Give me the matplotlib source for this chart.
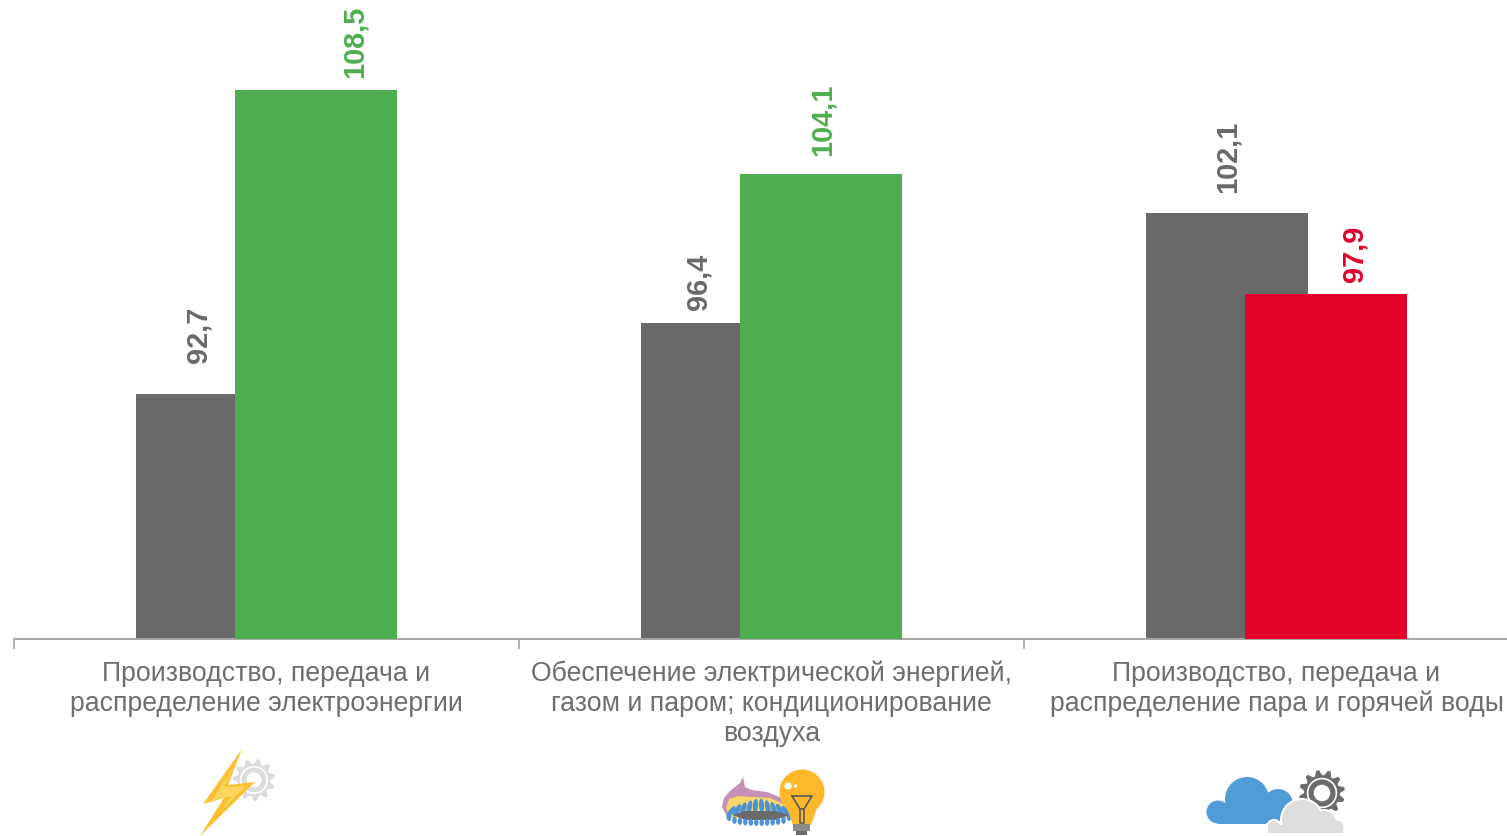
import numpy as np
import matplotlib
matplotlib.use("Agg")
import matplotlib.pyplot as plt
from matplotlib.patches import Circle, Ellipse, Polygon, Rectangle

categories = [
    "Производство, передача и\nраспределение электроэнергии",
    "Обеспечение электрической энергией,\nгазом и паром; кондиционирование\nвоздуха",
    "Производство, передача и\nраспределение пара и горячей воды",
]
prev_values = [92.7, 96.4, 102.1]
curr_values = [108.5, 104.1, 97.9]

GREY = "#696969"
GREEN = "#4FAE50"
RED = "#E2002B"
TEXT = "#6E6E6E"
AXIS = "#A6A6A6"
curr_colors = [GREEN, GREEN, RED]

W, H = 1507, 836
plt.rcParams["font.family"] = ["Liberation Sans", "DejaVu Sans"]
fig = plt.figure(figsize=(W / 100, H / 100), dpi=100, facecolor="white")
ax = fig.add_axes([14 / W, (H - 639) / H, 1493 / W, 639 / H])

x = np.arange(len(categories))
bar_w = 162.5 / 505
shift = 49.5 / 505
ax.bar(x - shift, prev_values, bar_w, color=GREY, zorder=2)
ax.bar(x + shift, curr_values, bar_w, color=curr_colors, zorder=3)
ax.set_xlim(-0.5, 1493 / 505 - 0.5)
ax.set_ylim(80, 80 + 639 / 19.28)

# labels were hand-placed in the original, offsets in px from bar centre / top
prev_off = [(-19, 31), (-23, 13), (1, 20)]
curr_off = [(39, 12), (2, 18), (29, 12)]
pt = 0.72
for i in x:
    ax.annotate(f"{prev_values[i]:.1f}".replace(".", ","), (i - shift, prev_values[i]),
                xytext=(prev_off[i][0] * pt, prev_off[i][1] * pt), textcoords="offset points",
                rotation=90, ha="center", va="bottom", fontsize=20.8, fontweight="bold",
                color=GREY, annotation_clip=False)
    ax.annotate(f"{curr_values[i]:.1f}".replace(".", ","), (i + shift, curr_values[i]),
                xytext=(curr_off[i][0] * pt, curr_off[i][1] * pt), textcoords="offset points",
                rotation=90, ha="center", va="bottom", fontsize=20.8, fontweight="bold",
                color=curr_colors[i], annotation_clip=False)

for s in ["top", "left", "right"]:
    ax.spines[s].set_visible(False)
ax.spines["bottom"].set_color(AXIS)
ax.spines["bottom"].set_linewidth(1.4)
ax.set_yticks([])
ax.set_xticks(x)
ax.set_xticklabels(categories, fontsize=19.2, color=TEXT, linespacing=1.2)
ax.tick_params(axis="x", which="major", length=0, pad=15.5)
ax.set_xticks([-0.5, 0.5, 1.5], minor=True)
ax.tick_params(axis="x", which="minor", length=7, width=1.2, color=AXIS)

# ─── icons under the categories, drawn in pixel coords ───
ic = fig.add_axes([0, 0, 1, 1], zorder=5)
ic.set_xlim(0, W)
ic.set_ylim(H, 0)
ic.axis("off")


def gear(cx, cy, r_out, r_in, n, col):
    a = np.linspace(0, 2 * np.pi, n * 4, endpoint=False) + np.pi / (2 * n)
    r = np.tile([r_in, r_out, r_out, r_in], n)
    ic.add_patch(Polygon(np.c_[cx + r * np.cos(a), cy + r * np.sin(a)], color=col, lw=0))
    ic.add_patch(Circle((cx, cy), r_in * 0.8, fc=col, ec="white", lw=1.2))
    ic.add_patch(Circle((cx, cy), r_in * 0.46, fc="white", lw=0))


# bolt + gear
gear(254, 780, 21, 16.5, 11, "#DCDCDC")
ic.add_patch(Polygon([(242, 749), (203, 804), (224, 798), (200, 836), (255, 782), (228, 785)],
                     color="#FBC02D", lw=0))
ic.add_patch(Polygon([(234, 766), (211, 801), (232, 796), (218, 814), (246, 786), (224, 787)],
                     color="#FDD65E", lw=0))

# burner
ic.add_patch(Polygon([(722, 807), (724, 798), (730, 791), (740, 783), (743, 777), (745, 787),
                      (752, 790), (767, 792), (782, 798), (790, 818), (728, 818)],
                     color="#C590B5", lw=0))
ic.add_patch(Polygon([(726, 808), (729, 799), (738, 796), (770, 798), (788, 806), (788, 818), (730, 818)],
                     color="#F6D56B", lw=0))
for fx in np.linspace(731, 786, 10):
    tilt = (fx - 759) * -1.3
    ic.add_patch(Ellipse((fx, 805 + 7 * abs(fx - 759) / 28), 5, 14, angle=tilt, color="#4C92D6", lw=0))
ic.add_patch(Polygon([(733, 815), (745, 811), (775, 811), (790, 815), (775, 820), (745, 820)],
                     color="#6A6A6A", lw=0))
for t in np.linspace(-1, 1, 12):
    ic.add_patch(Ellipse((759 + 30 * t, 817.5 + 5 * np.sqrt(1 - t * t)), 4.5, 7, color="#4C92D6", lw=0))

# bulb
ic.add_patch(Circle((802, 792), 22.5, color="#FDB92B", lw=0))
ic.add_patch(Polygon([(786, 805), (818, 805), (811, 825), (793, 825)], color="#FDB92B", lw=0))
ic.add_patch(Rectangle((793, 824), 17, 7, color="#8A8A8A", lw=0))
ic.add_patch(Rectangle((796, 831), 11, 4, color="#6A6A6A", lw=0))
ic.plot([792, 812, 804, 800, 792], [796, 796, 809, 809, 796], color="#5A5A5A", lw=1.2)
ic.plot([800, 800, 804, 804], [809, 823, 823, 809], color="#5A5A5A", lw=1.2)
ic.add_patch(Circle((788, 786), 3.6, color="white", lw=0))
ic.add_patch(Circle((795.5, 786), 1.6, color="white", lw=0))

# clouds + gear
gear(1322, 793, 23, 18, 12, "#6B6B6B")
BLUE = "#4F9CD6"
ic.add_patch(Circle((1247, 799), 22, color=BLUE, lw=0))
ic.add_patch(Circle((1218, 812), 11.5, color=BLUE, lw=0))
ic.add_patch(Circle((1278, 804), 15, color=BLUE, lw=0))
ic.add_patch(Rectangle((1218, 804), 75, 19.5, color=BLUE, lw=0))
for halo, col in ((2, "white"), (0, "#DDDDDD")):
    parts = [
        Circle((1302, 820), 20 + halo, color=col, lw=0),
        Circle((1274, 827), 6 + halo, color=col, lw=0),
        Circle((1324, 823), 12 + halo, color=col, lw=0),
        Circle((1337, 827), 6.5 + halo, color=col, lw=0),
        Rectangle((1268 - halo, 825 - halo), 75 + 2 * halo, 8 + 2 * halo, color=col, lw=0),
    ]
    flat = Rectangle((1255, 780), 100, 53 + halo, transform=ic.transData)
    for p in parts:
        ic.add_patch(p)
        p.set_clip_path(flat)

fig.savefig("out.png", dpi=100, facecolor="white")
